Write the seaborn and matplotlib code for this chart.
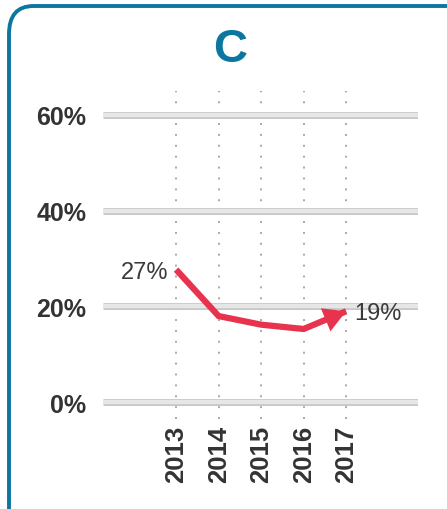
import matplotlib
matplotlib.use("Agg")
import matplotlib.pyplot as plt
from matplotlib.patches import FancyBboxPatch
import seaborn as sns
import pandas as pd

# === данные ===
years = [2013, 2014, 2015, 2016, 2017]
share = [27.7, 18.0, 16.2, 15.3, 19.0]
point_labels = ["27%", "", "", "", "19%"]
y_ticks = [0, 20, 40, 60]
y_tick_labels = ["0%", "20%", "40%", "60%"]
title = "C"

df = pd.DataFrame({"year": years, "share": share})

sns.set_style("white")
plt.rcParams['font.family'] = ['Liberation Sans', 'DejaVu Sans']

blue = "#0b76a0"
red = "#e8334f"

fig = plt.figure(figsize=(4.47, 5.10), dpi=100)
ax = fig.add_axes([103 / 447, 1 - 420 / 510, (418 - 103) / 447, (420 - 92) / 510])

# рамка вокруг панели
box = FancyBboxPatch((9 / 447, -0.1), 1.2, 1 - 7 / 510 + 0.1,
                     boxstyle="round,pad=0,rounding_size=0.055",
                     transform=fig.transFigure, fill=False,
                     edgecolor=blue, linewidth=2.8, zorder=0)
fig.patches.append(box)

# горизонтальные полосы сетки
for v in y_ticks:
    ax.axhline(v, color="#c6c6c6", lw=5, zorder=1, solid_capstyle="butt")
    ax.axhline(v, color="#e6e6e6", lw=3.2, zorder=1.1, solid_capstyle="butt")

# вертикальные пунктирные линии
for yr in years:
    ax.axvline(yr, color="#a8a8a8", lw=1.4, linestyle=(0, (1, 4.6)), zorder=0.5)

sns.lineplot(data=df, x="year", y="share", color=red, lw=4.5, ax=ax,
             zorder=3, solid_capstyle="butt", solid_joinstyle="miter")
ax.annotate("", xy=(years[-1], share[-1]), xytext=(years[-2] + 0.5, share[-2] + 0.5 * (share[-1] - share[-2])),
            arrowprops=dict(arrowstyle="-|>,head_length=0.8,head_width=0.45", color=red, lw=0,
                            shrinkA=0, shrinkB=0, mutation_scale=20), zorder=4)

ax.text(years[0] - 0.18, share[0] - 0.5, point_labels[0], ha="right", va="center",
        fontsize=17, color="#3a3a3a")
ax.text(years[-1] + 0.18, share[-1] - 0.3, point_labels[-1], ha="left", va="center",
        fontsize=17, color="#3a3a3a")

ax.set_xlim(2013 - 1.72, 2017 + 1.69)
ax.set_ylim(-3.5, 65)
ax.set_yticks(y_ticks)
ax.set_yticklabels(y_tick_labels, fontsize=18, fontweight="bold", color="#333333")
ax.set_xticks(years)
ax.set_xticklabels([str(y) for y in years], rotation=90, fontsize=18.5,
                   fontweight="bold", color="#333333")
ax.tick_params(axis="y", length=0, pad=12)
ax.tick_params(axis="x", length=0, pad=4)
ax.set_xlabel("")
ax.set_ylabel("")
for s in ax.spines.values():
    s.set_visible(False)
ax.patch.set_alpha(0)

fig.text(230 / 447, 1 - 50 / 510, title, ha="center", va="center", fontsize=34,
         fontweight="bold", color=blue)

fig.savefig("out.png", dpi=100)
